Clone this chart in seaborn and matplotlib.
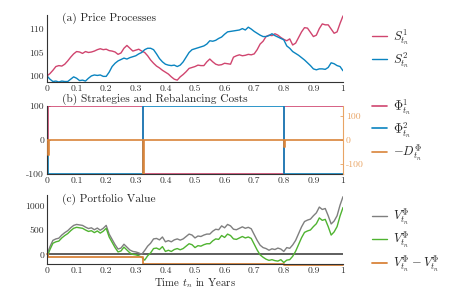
import matplotlib
matplotlib.use("Agg")
import matplotlib.pyplot as plt
import numpy as np
import seaborn as sns

# time grid (years)
t = np.linspace(0, 1, 101)

# (a) price processes
s1 = [100.0, 100.5, 101.2, 102.0, 102.2, 102.1, 102.5, 103.2, 104.0, 104.7,
      105.2, 105.1, 104.8, 105.2, 105.0, 105.1, 105.3, 105.6, 105.8, 105.6,
      105.7, 105.4, 105.3, 105.1, 104.6, 104.9, 105.9, 106.5, 105.9, 105.3,
      105.5, 105.7, 105.3, 105.0, 104.3, 103.4, 102.7, 102.1, 101.7, 101.2,
      100.8, 100.4, 99.8, 99.3, 99.1, 99.8, 100.3, 100.9, 101.6, 101.8,
      102.0, 102.3, 102.2, 102.2, 103.0, 103.6, 103.0, 102.5, 102.3, 102.4,
      102.7, 102.6, 102.5, 104.0, 104.3, 104.5, 104.3, 104.4, 104.6, 104.5,
      104.7, 105.6, 106.8, 107.4, 108.4, 108.7, 108.6, 109.0, 108.7, 108.2,
      107.8, 107.5, 107.9, 106.6, 107.0, 108.2, 109.4, 110.3, 110.2, 109.3,
      108.4, 108.7, 110.1, 111.1, 110.9, 110.9, 110.0, 109.1, 109.4, 111.2,
      112.8]
s2 = [100.0, 99.3, 98.8, 98.9, 98.7, 98.9, 98.8, 98.8, 99.3, 99.8,
      99.5, 99.0, 99.1, 98.9, 99.5, 100.0, 100.2, 100.1, 100.2, 99.9,
      99.9, 100.8, 102.0, 102.7, 103.2, 103.5, 103.8, 103.6, 103.9, 104.1,
      104.3, 104.7, 105.0, 105.6, 105.9, 105.9, 105.6, 104.7, 103.7, 103.0,
      102.5, 102.3, 102.2, 102.3, 102.0, 102.3, 103.0, 104.0, 105.0, 105.6,
      105.8, 106.0, 106.2, 106.4, 106.8, 107.5, 107.4, 107.6, 108.0, 108.3,
      108.9, 109.4, 109.5, 109.6, 109.7, 109.8, 110.1, 109.8, 110.4, 110.0,
      109.5, 109.1, 108.7, 108.4, 108.4, 108.6, 109.0, 108.6, 108.3, 108.0,
      107.7, 106.4, 105.9, 105.2, 104.8, 104.4, 103.9, 103.4, 102.8, 102.2,
      101.5, 101.3, 101.5, 101.5, 101.4, 101.8, 102.8, 102.6, 102.2, 102.0,
      101.1]

# (b) strategies and rebalancing costs
rebal_t = [0.003, 0.325, 0.8]
phi1 = [100, -100, 100]
phi2 = [-100, 100, -100]
costs = [62, 150, 30]

# (c) portfolio value
v_port = [0, 160, 290, 320, 335, 400, 450, 490, 550, 600,
          620, 610, 600, 565, 535, 550, 510, 545, 500, 540,
          600, 420, 310, 200, 110, 130, 210, 150, 90, 60,
          50, 30, 0, 80, 170, 230, 320, 330, 300, 360,
          260, 285, 260, 300, 320, 295, 320, 370, 420, 400,
          340, 380, 370, 400, 420, 420, 480, 520, 510, 590,
          550, 620, 590, 520, 510, 540, 570, 540, 560, 530,
          410, 290, 190, 140, 120, 85, 115, 100, 130, 110,
          60, 140, 125, 195, 290, 430, 570, 680, 710, 730,
          800, 860, 980, 930, 950, 800, 630, 690, 800, 1020,
          1195]
v_net = [-60, 100, 230, 260, 275, 340, 390, 430, 490, 540,
         560, 550, 540, 505, 475, 490, 450, 485, 440, 480,
         540, 360, 250, 140, 50, 70, 150, 90, 30, 0,
         -10, -30, -60, -120, -30, 30, 120, 130, 100, 160,
         60, 85, 60, 100, 120, 95, 120, 170, 220, 200,
         140, 180, 170, 200, 220, 220, 280, 320, 310, 390,
         350, 420, 390, 320, 310, 340, 370, 340, 360, 330,
         210, 90, -10, -60, -100, -125, -110, -130, -140, -110,
         -170, -120, -110, -40, 65, 205, 345, 455, 485, 505,
         575, 635, 755, 705, 725, 575, 400, 465, 575, 795,
         970]
cum_costs = [-60, -200, -225]

pink = "#d0456f"
blue = "#0a84c0"
orange = "#d9843a"
orange_axis = "#e9a464"
green = "#4fb330"
grey = "#7f7f7f"
dark = "#333333"

sns.set_theme(style="white")
plt.rcParams.update({
    "font.family": "serif",
    "font.serif": ["cmr10"],
    "mathtext.fontset": "cm",
    "axes.unicode_minus": False,
    "axes.formatter.use_mathtext": True,
    "axes.edgecolor": dark,
    "axes.linewidth": 0.8,
    "xtick.color": dark,
    "ytick.color": dark,
})

fig = plt.figure(figsize=(4.71, 2.90), dpi=100)
left, width = 47 / 471, 296 / 471
ax_a = fig.add_axes([left, 1 - 82 / 290, width, 67 / 290])
ax_b = fig.add_axes([left, 1 - 174 / 290, width, 68 / 290])
ax_c = fig.add_axes([left, 1 - 264 / 290, width, 69 / 290])

xticks = [0, 0.1, 0.2, 0.3, 0.4, 0.5, 0.6, 0.7, 0.8, 0.9, 1]
xlabels = ["0", "0.1", "0.2", "0.3", "0.4", "0.5", "0.6", "0.7", "0.8", "0.9", "1"]


def style_axis(ax, yticks, ylim):
    ax.set_xlim(0, 1)
    ax.set_ylim(*ylim)
    ax.set_xticks(xticks)
    ax.set_xticklabels(xlabels)
    ax.set_yticks(yticks)
    ax.set_yticklabels([str(v) for v in yticks])
    for side in ["top", "right"]:
        ax.spines[side].set_visible(False)
    ax.tick_params(direction="in", length=2.5, width=0.6, labelsize=7, pad=2)
    ax.set_xlabel("")
    ax.set_ylabel("")


def place_legend(ax, handles, labels, yc):
    ax.legend(handles, labels, loc="center left", bbox_to_anchor=(372 / 471, 1 - yc / 290),
              bbox_transform=fig.transFigure, frameon=False, fontsize=9,
              handlelength=1.2, handletextpad=0.5, borderpad=0, borderaxespad=0,
              labelspacing=0.25)


# (a) Price Processes
sns.lineplot(x=t, y=s1, ax=ax_a, color=pink, linewidth=1.0, label=r"$S^1_{t_n}$")
sns.lineplot(x=t, y=s2, ax=ax_a, color=blue, linewidth=1.0, label=r"$S^2_{t_n}$")
style_axis(ax_a, [100, 105, 110], (98.7, 113.0))
h, l = ax_a.get_legend_handles_labels()
place_legend(ax_a, h, l, 49)

# (b) Strategies and Rebalancing Costs
step_t = [0.0] + rebal_t + [1.0]
phi1_s = [0] + phi1 + [phi1[-1]]
phi2_s = [0] + phi2 + [phi2[-1]]
sns.lineplot(x=step_t, y=phi1_s, ax=ax_b, color=pink, linewidth=1.2,
             drawstyle="steps-post", estimator=None, sort=False, label=r"$\Phi^1_{t_n}$")
sns.lineplot(x=step_t, y=phi2_s, ax=ax_b, color=blue, linewidth=1.2,
             drawstyle="steps-post", estimator=None, sort=False, label=r"$\Phi^2_{t_n}$")
style_axis(ax_b, [-100, 0, 100], (-100, 100))

ax_b2 = ax_b.twinx()
d_t, d_v = [0.0], [0.0]
for tr, c in zip(rebal_t, costs):
    d_t += [tr, tr, tr + 0.003, tr + 0.003]
    d_v += [0, -c, -c, 0]
d_t.append(1.0)
d_v.append(0)
sns.lineplot(x=d_t, y=d_v, ax=ax_b2, color=orange, linewidth=1.2,
             estimator=None, sort=False, label=r"$-D^{\Phi}_{t_n}$")
ax_b2.set_ylim(-142, 142)
ax_b2.set_yticks([-100, 0, 100])
ax_b2.set_yticklabels(["-100", "0", "100"])
for side in ["top", "left", "bottom"]:
    ax_b2.spines[side].set_visible(False)
ax_b2.spines["right"].set_color(orange_axis)
ax_b2.tick_params(direction="in", length=2.5, width=0.6, labelsize=7, pad=2,
                  colors=orange_axis)
ax_b2.set_ylabel("")
h1, l1 = ax_b.get_legend_handles_labels()
h2, l2 = ax_b2.get_legend_handles_labels()
ax_b2.get_legend().remove()
place_legend(ax_b, h1 + h2, l1 + l2, 130)

# (c) Portfolio Value
ax_c.axhline(0, color=dark, linewidth=1.1)
sns.lineplot(x=t, y=v_port, ax=ax_c, color=grey, linewidth=1.0, label=r"$V^{\Phi}_{t_n}$")
sns.lineplot(x=t, y=v_net, ax=ax_c, color=green, linewidth=1.0, label=r"$V^{\Phi}_{t_n}$")
cost_s = [0] + cum_costs + [cum_costs[-1]]
sns.lineplot(x=step_t, y=cost_s, ax=ax_c, color=orange, linewidth=1.3,
             drawstyle="steps-post", estimator=None, sort=False,
             label=r"$V^{\Phi}_{t_n} - V^{\Phi}_{t_n}$")
ax_c.lines[-1].set_clip_on(False)
style_axis(ax_c, [0, 500, 1000], (-200, 1230))
ax_c.set_xlabel(r"Time $t_n$ in Years", fontsize=7.8, labelpad=0.5)
h, l = ax_c.get_legend_handles_labels()
place_legend(ax_c, h, l, 240)

# panel titles
fig.text(62 / 471, 1 - 18 / 290, "(a) Price Processes", fontsize=8.2, va="center", ha="left")
fig.text(62 / 471, 1 - 99 / 290, "(b) Strategies and Rebalancing Costs", fontsize=8.2, va="center", ha="left")
fig.text(62 / 471, 1 - 199 / 290, "(c) Portfolio Value", fontsize=8.2, va="center", ha="left")

fig.savefig("out.png", dpi=100)
